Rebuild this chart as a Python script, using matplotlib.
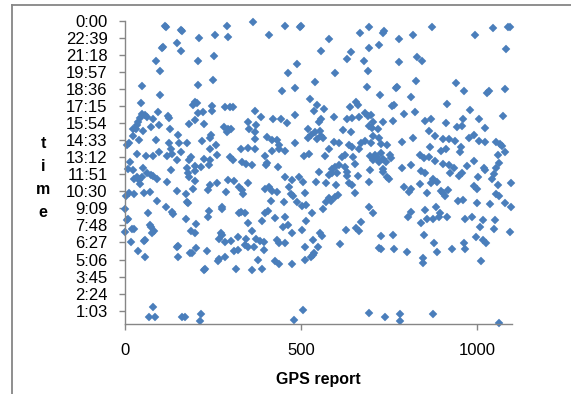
import matplotlib
matplotlib.use('Agg')
import matplotlib.pyplot as plt
from matplotlib.lines import Line2D
from matplotlib.ticker import FixedLocator, FuncFormatter

# GPS report index and time of day (minutes after midnight)
gps_report = [
    113, 117, 160, 163, 210, 255, 291, 293, 363, 105,
    108, 147, 159, 88, 208, 252, 100, 249, 48, 207,
    99, 46, 198, 204, 194, 248, 285, 299, 307, 94,
    207, 222, 247, 48, 56, 44, 63, 37, 80, 122,
    124, 200, 351, 35, 22, 31, 75, 97, 183, 224,
    128, 281, 293, 302, 289, 50, 24, 152, 245, 353,
    88, 219, 41, 124, 154, 175, 241, 258, 12, 7,
    330, 351, 33, 60, 80, 97, 130, 135, 158, 118,
    243, 262, 298, 308, 188, 183, 149, 224, 241, 332,
    344, 14, 52, 130, 175, 200, 217, 238, 8, 24,
    362,
    25, 33, 39, 43, 48, 63, 75, 80, 92, 118,
    179, 181, 200, 198, 241, 236, 262, 294, 311, 323,
    332, 336, 351, 10, 3, 25, 54, 71, 149, 173,
    194, 287, 90, 116, 135, 137, 177, 179, 240, 236,
    277, 275, 1, 65, 173, 323, 330, 342, 349, 5,
    8, 203, 1, 20, 27, 71, 75, 82, 78, 188,
    198, 272, 275, 321, 344, 268, 285, 302, 16, 58,
    54, 147, 152, 202, 185, 190, 234, 266, 264, 285,
    311, 321, 340, 351, 37, 56, 150, 228, 224, 315,
    361, 80, 67, 86, 162, 170, 215, 213,
    456, 497, 501, 410, 579, 668, 694, 732, 736, 558,
    641, 630, 694, 723, 679, 488, 463, 598, 692, 539,
    446, 484, 687, 725, 526, 547, 537, 566, 370, 386,
    422, 444, 461, 484, 558, 552, 594, 639, 656, 662,
    630, 645, 666, 683, 691, 700, 704, 694, 702, 719,
    732, 372, 370, 370, 405, 418, 433, 437, 456, 482,
    520, 528, 520, 541, 554, 556, 547, 564, 594, 609,
    619, 641, 636, 645, 666, 672, 683, 704, 721, 700,
    727, 745, 370, 399, 418, 437, 509, 524, 569, 581,
    617, 626, 647, 653, 696, 711, 717, 706, 721, 732,
    403, 401, 435, 552, 598, 609, 626, 630, 696, 734,
    728, 588, 742,
    454, 494, 505, 543, 571, 581, 588, 603, 630, 636,
    645, 662, 694, 734, 399, 408, 418, 431, 416, 452,
    467, 475, 473, 477, 490, 503, 513, 514, 531, 562,
    571, 579, 586, 598, 605, 600, 653, 694, 704, 399,
    406, 389, 427, 456, 448, 463, 475, 503, 514, 560,
    554, 535, 361, 372, 384, 395, 395, 367, 431, 437,
    456, 511, 549, 533, 528, 537, 511, 475, 378, 389,
    425, 437, 611, 628, 656, 664, 672, 728, 721, 728,
    507, 480, 694, 740,
    780, 820, 873, 994, 1045, 1089, 1094, 1083, 778, 829,
    844, 941, 964, 1030, 1036, 1079, 770, 774, 827, 814,
    914, 759, 765, 761, 793, 823, 854, 869, 912, 962,
    981, 1005, 945, 958, 865, 882, 1024, 1075, 787, 818,
    903, 922, 937, 977, 992, 1005, 1024, 1055, 1066, 1072,
    867, 899, 912, 956, 952, 839, 850, 863, 753, 757,
    882, 905, 922, 935, 973, 992, 1020, 1055, 1064, 1060,
    1081, 787, 812, 840,
    746, 751, 852, 839, 869, 875, 886, 924, 950, 958,
    1003, 1022, 1043, 1049, 1060, 1098, 793, 806, 814, 859,
    897, 909, 918, 905, 947, 960, 992, 1000, 1001, 1037,
    1055, 1064, 1079, 1096, 805, 814, 852, 884, 840, 859,
    875, 892, 894, 916, 967, 986, 1017, 1009, 1051, 1049,
    1094, 761, 850, 878, 765, 801, 888, 930, 964, 967,
    998, 1017, 1026, 846, 848, 1011, 782, 782, 876, 1064,
]

time_minutes = [
    1415, 1411, 1394, 1389, 1358, 1373, 1415, 1362, 1434, 1312,
    1316, 1334, 1296, 1250, 1250, 1272, 1201, 1158, 1131, 1136,
    1087, 1047, 1054, 1047, 1041, 1035, 1031, 1031, 1031, 1008,
    1003, 1006, 1011, 998, 990, 978, 982, 959, 974, 986,
    978, 970, 959, 943, 924, 927, 935, 943, 949, 949,
    924, 935, 927, 924, 911, 916, 892, 895, 895, 924,
    872, 870, 875, 860, 860, 860, 883, 851, 860, 848,
    829, 835, 808, 797, 797, 816, 829, 808, 816, 797,
    829, 803, 792, 781, 791, 777, 777, 784, 777, 769,
    762, 769, 743, 731, 742, 750, 746, 753, 737, 731,
    756,
    687, 696, 684, 665, 699, 718, 709, 703, 690, 674,
    715, 696, 726, 677, 658, 636, 671, 684, 677, 649,
    636, 617, 671, 620, 608, 617, 623, 627, 630, 617,
    639, 627, 582, 557, 532, 522, 579, 573, 535, 509,
    557, 544, 544, 525, 497, 525, 532, 528, 478, 494,
    497, 475, 437, 452, 449, 468, 459, 440, 430, 443,
    430, 433, 424, 411, 402, 402, 389, 392, 389, 399,
    392, 364, 370, 361, 335, 338, 348, 310, 300, 319,
    345, 351, 373, 364, 348, 319, 319, 259, 256, 259,
    258, 82, 34, 31, 34, 34, 47, 15,
    1415, 1411, 1415, 1373, 1354, 1383, 1408, 1383, 1389, 1297,
    1291, 1259, 1310, 1323, 1247, 1234, 1190, 1190, 1199, 1149,
    1107, 1120, 1126, 1088, 1069, 1038, 1012, 1022, 1012, 984,
    974, 974, 952, 990, 971, 959, 984, 1031, 1054, 1038,
    974, 978, 981, 1000, 987, 990, 959, 940, 930, 927,
    959, 943, 911, 879, 886, 873, 873, 851, 822, 860,
    927, 895, 883, 911, 917, 892, 879, 883, 864, 860,
    921, 911, 851, 838, 829, 860, 870, 892, 883, 857,
    854, 851, 829, 797, 822, 829, 800, 807, 797, 832,
    794, 803, 791, 759, 797, 803, 794, 778, 769, 784,
    765, 753, 746, 724, 746, 753, 746, 724, 731, 737,
    810, 737, 769,
    696, 699, 674, 674, 668, 706, 718, 718, 703, 671,
    661, 703, 674, 721, 642, 652, 633, 627, 585, 579,
    652, 684, 617, 608, 579, 560, 620, 563, 525, 547,
    579, 598, 585, 604, 611, 658, 623, 554, 525, 528,
    535, 487, 503, 506, 462, 468, 430, 446, 487, 418,
    430, 399, 443, 405, 395, 389, 351, 367, 399, 386,
    383, 364, 364, 326, 319, 338, 304, 285, 304, 259,
    300, 285, 380, 446, 456, 440, 484, 418, 361, 357,
    66, 19, 50, 33,
    1354, 1370, 1408, 1373, 1405, 1408, 1411, 1307, 1244, 1266,
    1250, 1142, 1104, 1095, 1104, 1117, 1120, 1126, 1155, 1076,
    1044, 1035, 1038, 965, 997, 1006, 962, 974, 952, 974,
    1016, 971, 936, 940, 917, 892, 930, 987, 864, 883,
    879, 876, 870, 883, 895, 867, 864, 864, 854, 845,
    841, 822, 832, 838, 816, 803, 788, 791, 803, 788,
    772, 759, 753, 743, 750, 772, 743, 743, 765, 803,
    816, 740, 753, 727,
    699, 687, 715, 665, 668, 687, 674, 718, 703, 715,
    699, 731, 690, 712, 658, 671, 652, 627, 639, 623,
    633, 608, 636, 620, 582, 589, 655, 639, 576, 570,
    617, 608, 576, 557, 509, 532, 541, 554, 478, 497,
    497, 509, 525, 509, 500, 509, 494, 459, 494, 449,
    437, 421, 424, 386, 357, 342, 342, 354, 383, 357,
    414, 399, 383, 313, 291, 297, 47, 12, 47, 6,
]

x_ticks = [0, 500, 1000]
y_ticks = list(range(63, 1441, 81))   # Excel major unit 1:21


def hhmm(m, pos=None):
    m = int(round(m))
    return f"{(m // 60) % 24}:{m % 60:02d}"


plt.rcParams['font.family'] = ['Liberation Sans', 'DejaVu Sans']

fig = plt.figure(figsize=(5.71, 3.94), dpi=100)
fig.patch.set_facecolor('white')
ax = fig.add_axes([125 / 571, 1 - 324 / 394, 387 / 571, 303.3 / 394])

ax.plot(gps_report, time_minutes, linestyle='none', marker='D',
        markersize=3.7, color='#4A7EBB', markeredgecolor='#4A7EBB',
        markeredgewidth=0.3, clip_on=False)

ax.set_xlim(0, 1100)
ax.set_ylim(0, 1440)
ax.xaxis.set_major_locator(FixedLocator(x_ticks))
ax.yaxis.set_major_locator(FixedLocator(y_ticks))
ax.yaxis.set_major_formatter(FuncFormatter(hhmm))

grey = '#868686'
for side in ['top', 'right']:
    ax.spines[side].set_visible(False)
for side in ['left', 'bottom']:
    ax.spines[side].set_color(grey)
    ax.spines[side].set_linewidth(1.0)

ax.tick_params(axis='both', direction='out', length=4.5, width=1.0,
               color=grey, labelsize=12, labelcolor='black')
ax.tick_params(axis='y', pad=8)
ax.tick_params(axis='x', pad=9)

ax.set_xlabel('GPS report', fontsize=11.5, fontweight='bold', labelpad=10)
ax.set_ylabel('t\ni\nm\ne', rotation=0, fontsize=11.5, fontweight='bold',
              linespacing=1.65, ha='center', va='center')
ax.yaxis.set_label_coords(-0.212, 0.481)

# chart area border (cut at the right and bottom of the picture)
fig.add_artist(Line2D([12 / 571, 1.0], [1 - 5 / 394, 1 - 5 / 394],
                      color=grey, linewidth=1.3, transform=fig.transFigure))
fig.add_artist(Line2D([12 / 571, 12 / 571], [0.0, 1 - 5 / 394],
                      color=grey, linewidth=1.3, transform=fig.transFigure))

fig.savefig('out.png', dpi=100, facecolor='white')
